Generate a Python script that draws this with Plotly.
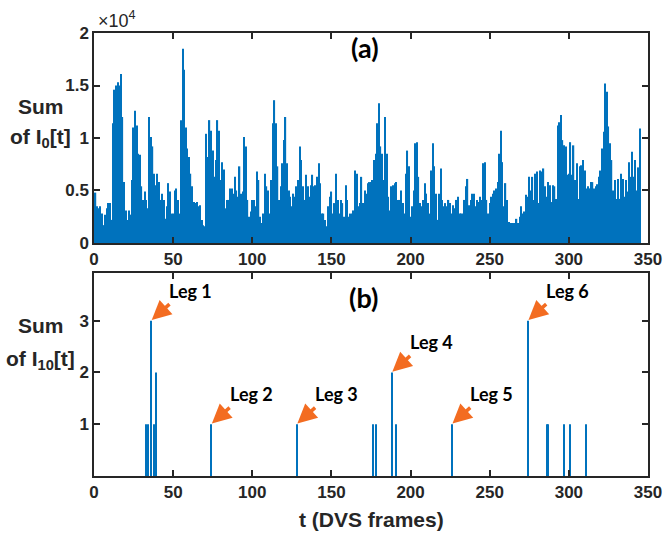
import plotly.graph_objects as go

# ---- data ----
# Panel (a): Sum of I0[t], in units of 1e4
i0_values = [
    0.48,0.35,0.33,0.35,0.28,0.17,0.27,0.33,0.38,0.38,
    0.22,1.14,1.46,1.50,1.53,1.50,1.61,1.20,0.58,0.31,
    0.22,0.31,0.27,0.60,1.10,1.26,1.12,0.85,0.84,0.54,
    0.41,0.49,0.41,0.33,1.20,1.01,0.92,0.66,0.55,0.66,
    0.58,0.41,0.47,0.41,0.23,0.35,0.57,0.49,0.28,0.28,
    0.50,0.52,0.41,0.28,1.17,1.85,1.65,1.10,0.90,0.82,
    0.66,0.54,0.39,0.38,0.39,0.35,0.36,0.22,0.17,0.16,
    1.04,0.82,1.17,1.07,0.88,0.63,0.79,1.17,1.07,0.60,
    0.77,0.70,0.33,0.41,0.41,0.52,0.52,0.47,0.63,0.50,
    0.44,0.73,0.47,0.49,1.01,0.92,0.41,0.25,0.30,0.41,
    0.41,0.35,0.68,0.60,0.25,0.19,0.28,0.66,0.54,0.50,
    0.28,0.60,1.14,1.36,1.14,0.73,0.41,0.54,0.76,0.98,
    1.20,0.76,0.50,0.44,0.35,0.47,0.44,0.54,0.60,0.92,
    0.79,0.54,0.41,0.65,0.54,0.44,0.55,0.65,0.54,0.55,
    0.63,0.76,0.57,0.28,0.28,0.22,0.16,0.35,0.44,0.49,
    0.28,0.38,0.66,0.41,0.28,0.41,0.38,0.25,0.55,0.41,0.25,
    0.28,0.28,0.31,0.69,0.66,0.35,0.38,0.63,0.38,
    0.50,0.47,0.57,0.58,0.58,0.60,0.79,0.85,1.14,1.33,
    0.92,0.85,0.60,1.20,0.85,0.44,0.31,0.54,0.55,0.57,
    0.58,0.41,0.41,0.50,0.38,0.28,0.66,0.88,0.73,0.25,
    0.35,0.50,0.95,0.96,0.63,0.38,0.35,0.41,0.57,0.47,
    0.38,0.28,0.69,0.95,0.73,0.47,0.22,0.47,0.71,0.41,
    0.35,0.38,0.35,0.41,0.38,0.28,0.36,0.33,
    0.41,0.44,0.28,0.28,0.28,0.41,0.54,0.61,0.36,0.41,
    0.47,0.47,0.35,0.41,0.39,0.44,0.41,0.76,0.77,0.41,
    0.28,0.38,0.44,0.47,0.50,0.52,0.58,0.85,1.07,0.77,0.35,
    0.57,0.41,0.20,0.19,0.19,0.19,0.19,0.23,0.19,0.25,0.35,
    0.28,0.30,0.46,0.44,0.63,0.50,0.63,0.41,0.66,0.68,
    0.38,0.69,0.68,0.71,0.54,0.44,0.58,0.55,0.39,0.55,
    0.54,0.42,1.12,1.15,1.22,0.98,0.93,0.92,0.65,0.66,
    0.96,0.65,0.93,0.60,0.76,0.42,0.73,0.74,0.79,0.69,
    0.52,0.54,0.52,0.58,0.58,0.52,0.54,0.56,0.63,0.69,
    0.90,1.06,1.52,1.44,1.11,0.95,0.79,0.50,0.60,0.42,
    0.61,0.42,0.66,0.61,0.44,0.60,0.49,0.77,0.63,0.87,
    0.63,0.79,0.50,0.72,1.09,
]
i0_frames = list(range(1, len(i0_values) + 1))

# Panel (b): Sum of I10[t] (non-zero frames)
i10_frames = [33, 34, 36, 38, 39, 74, 128, 176, 178, 188, 191, 226, 274, 286, 287, 297, 301, 311]
i10_values = [1, 1, 3, 1, 2, 1, 1, 1, 1, 2, 1, 1, 3, 1, 1, 1, 1, 1]

# Leg annotations (frame, value)
leg_labels = ["Leg 1", "Leg 2", "Leg 3", "Leg 4", "Leg 5", "Leg 6"]
leg_frames = [36, 74, 128, 188, 226, 274]
leg_values = [3, 1, 1, 2, 1, 3]

x_ticks = [0, 50, 100, 150, 200, 250, 300, 350]
ya_ticks = [0, 0.5, 1, 1.5, 2]
ya_ticktext = ["0", "0.5", "1", "1.5", "2"]
yb_ticks = [1, 2, 3]

# ---- style ----
BLUE = "#0072BD"
ORANGE = "#F36C21"
AXC = "#262626"
TICKFONT = dict(family="Liberation Sans, Arial", size=17, color=AXC, weight="bold")
LEGFONT = dict(family="Lato, Open Sans", size=18, color="black", weight="bold")

fig = go.Figure()
fig.add_trace(go.Bar(x=i0_frames, y=i0_values, marker=dict(color=BLUE, line=dict(width=0)),
                     xaxis="x", yaxis="y", showlegend=False))
fig.add_trace(go.Bar(x=i10_frames, y=i10_values, width=0.7, marker=dict(color=BLUE, line=dict(width=0)),
                     xaxis="x2", yaxis="y2", showlegend=False))

axis_common = dict(showline=True, linecolor=AXC, linewidth=1.5, mirror="ticks",
                   ticks="inside", ticklen=6, tickwidth=1.5, tickcolor=AXC,
                   showgrid=False, zeroline=False, tickfont=TICKFONT, automargin=False)

fig.update_layout(
    width=665, height=536,
    margin=dict(l=94, r=17, t=33, b=60),
    paper_bgcolor="white", plot_bgcolor="white",
    bargap=0.2,
    xaxis=dict(domain=[0, 1], anchor="y", range=[0, 350], tickvals=x_ticks, **axis_common),
    yaxis=dict(domain=[0.526, 1], anchor="x", range=[0, 2], tickvals=ya_ticks, ticktext=ya_ticktext, **axis_common),
    xaxis2=dict(domain=[0, 1], anchor="y2", range=[0, 350], tickvals=x_ticks, **axis_common),
    yaxis2=dict(domain=[0, 0.458], anchor="x2", range=[0, 3.92], tickvals=yb_ticks, **axis_common),
)

C = dict(xanchor="center", yanchor="middle", showarrow=False)
ann = []
# exponent label
ann.append(dict(text="×10<sup>4</sup>", xref="paper", yref="paper", x=0.004, y=1.0,
                xanchor="left", yanchor="bottom", showarrow=False,
                font=dict(family="Liberation Sans, Arial", size=18, color=AXC)))
# panel labels
PL = dict(family="Lato, Open Sans", size=27, color="black", weight="bold")
ann.append(dict(text="(a)", xref="paper", yref="paper", x=0.489, y=0.968, font=PL, **C))
ann.append(dict(text="(b)", xref="paper", yref="paper", x=0.487, y=0.404, font=PL, **C))
# y titles (two lines each)
YT = dict(family="Liberation Sans, Arial", size=21, color=AXC, weight="bold")
ann.append(dict(text="Sum", xref="paper", yref="paper", x=-0.0957, y=0.833, font=YT, **C))
ann.append(dict(text="of I<sub>0</sub>[t]", xref="paper", yref="paper", x=-0.0957, y=0.763, font=YT, **C))
ann.append(dict(text="Sum", xref="paper", yref="paper", x=-0.0957, y=0.339, font=YT, **C))
ann.append(dict(text="of I<sub>10</sub>[t]", xref="paper", yref="paper", x=-0.0957, y=0.262, font=YT, **C))
# x title
ann.append(dict(text="t (DVS frames)", xref="paper", yref="paper", x=0.5, y=-0.099, font=YT, **C))
# leg arrows + labels
for lab, fx, fy in zip(leg_labels, leg_frames, leg_values):
    ann.append(dict(text="", x=fx, y=fy, xref="x2", yref="y2", showarrow=True,
                    ax=20, ay=-18, arrowhead=2, arrowsize=1.1, arrowwidth=3.5,
                    arrowcolor=ORANGE, standoff=1))
    ann.append(dict(text=lab, x=fx, y=fy, xref="x2", yref="y2", xshift=40, yshift=30,
                    font=LEGFONT, **C))
fig.update_layout(annotations=ann)

fig.write_html("out.html", config={"displayModeBar": False},
               post_script="document.body.style.margin='0';document.body.style.overflow='hidden';")
